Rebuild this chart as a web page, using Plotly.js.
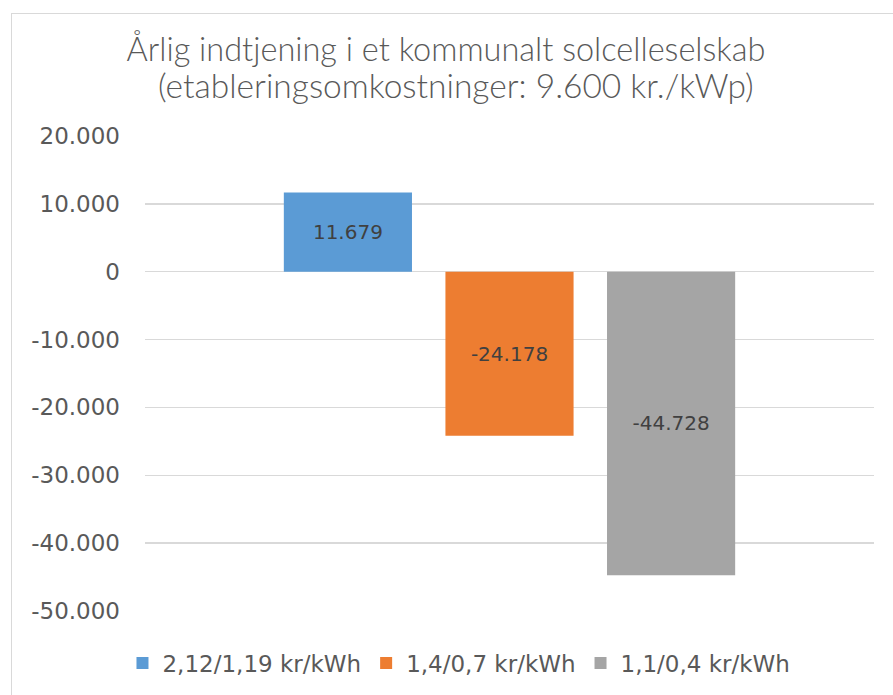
<!DOCTYPE html>
<html>
<head>
<meta charset="utf-8">
<script src="https://cdn.plot.ly/plotly-3.0.1.min.js"></script>
<style>
  html, body { margin: 0; padding: 0; background: #fff; overflow: hidden; }
  #chart { position: absolute; left: 0; top: 0; width: 893px; height: 695px; }
  #frame { position: absolute; left: 11px; top: 13px; width: 1000px; height: 1000px;
           border: 1px solid #d9d9d9; pointer-events: none; }
</style>
</head>
<body>
<div id="chart"></div>
<div id="frame"></div>
<script>
const titleLine1 = "Årlig indtjening i et kommunalt solcelleselskab";
const titleLine2 = "(etableringsomkostninger: 9.600 kr./kWp)";
const seriesNames = ["2,12/1,19 kr/kWh", "1,4/0,7 kr/kWh", "1,1/0,4 kr/kWh"];
const seriesValues = [11679, -24178, -44728];
const seriesColors = ["#5B9BD5", "#ED7D31", "#A5A5A5"];
const category = ["Indtjening"];
const tickVals = [20000, 10000, 0, -10000, -20000, -30000, -40000, -50000];
const tickText = ["20.000", "10.000", "0", "-10.000", "-20.000", "-30.000", "-40.000", "-50.000"];

function fmt(v) {
  const s = Math.abs(v).toString().replace(/\B(?=(\d{3})+(?!\d))/g, ".");
  return (v < 0 ? "-" : "") + s;
}

const font = "DejaVu Sans, Lato, sans-serif";
const traces = seriesNames.map((name, i) => ({
  type: "bar",
  name: name,
  x: category,
  y: [seriesValues[i]],
  text: [fmt(seriesValues[i])],
  textposition: "inside",
  insidetextanchor: "middle",
  textfont: { family: font, size: 20, color: "#404040" },
  marker: { color: seriesColors[i] },
  hoverinfo: "skip"
}));

const layout = {
  width: 893, height: 695,
  margin: { l: 145, r: 19, t: 136, b: 83, pad: 0 },
  paper_bgcolor: "#fff", plot_bgcolor: "#fff",
  title: {
    text: titleLine1,
    font: { family: "Lato, sans-serif", size: 32.5, color: "#595959", weight: 300 },
    x: 446 / 893, xanchor: "center", xref: "container",
    y: 1 - 50 / 695, yanchor: "middle"
  },
  annotations: [{
    text: titleLine2,
    font: { family: "Lato, sans-serif", size: 33.5, color: "#595959", weight: 300 },
    xref: "paper", yref: "paper",
    x: (456 - 145) / 729, xanchor: "center",
    y: (612 - 85) / 476, yanchor: "middle",
    showarrow: false
  }],
  barmode: "group",
  bargap: 0.335,
  bargroupgap: 0.207,
  showlegend: true,
  legend: {
    orientation: "h",
    x: 0.4307, xanchor: "center",
    y: -0.107, yanchor: "middle",
    font: { family: font, size: 23, color: "#595959" },
    itemclick: false, itemdoubleclick: false
  },
  xaxis: {
    showticklabels: false, showgrid: false, zeroline: false, showline: false,
    range: [-0.5, 0.5], fixedrange: true
  },
  yaxis: {
    range: [-50000, 20000],
    tickmode: "array", tickvals: tickVals, ticktext: tickText,
    showgrid: true, gridcolor: "#D9D9D9", gridwidth: 1.3,
    zeroline: false, showline: false,
    ticks: "", ticklabelstandoff: 24,
    tickfont: { family: font, size: 23, color: "#595959" },
    fixedrange: true
  }
};

Plotly.newPlot("chart", traces, layout, { displayModeBar: false, staticPlot: true });
</script>
</body>
</html>
